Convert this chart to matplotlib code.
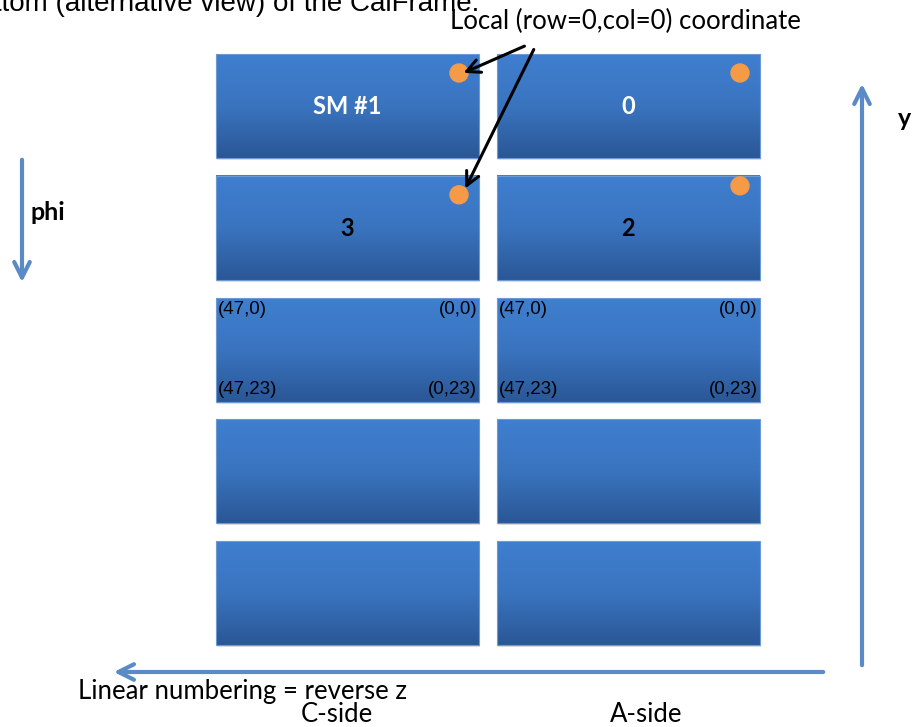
import matplotlib.pyplot as plt
import numpy as np
from matplotlib.colors import LinearSegmentedColormap
from matplotlib.patches import Rectangle, Circle

# super module labels, rows from top to bottom, columns C-side / A-side
sm_labels = [["SM #1", "0"],
             ["3", "2"],
             ["", ""],
             ["", ""],
             ["", ""]]
label_colors = ["white", "black", "black", "black", "black"]
sides = ["C-side", "A-side"]
corner_labels = ["(47,0)", "(0,0)", "(47,23)", "(0,23)"]
corner_row = 2
dot_rows = [0, 1]

# layout in pixels
col_x = [216, 497]
box_w, box_h = 263, 104
row_y0, row_pitch = 54, 121.8

blue_top = "#3f7fcf"
blue_mid = "#3a74bf"
blue_bot = "#2a5796"
orange = "#f59a47"
arrow_blue = "#5b8bc7"

fig = plt.figure(figsize=(9.15, 7.27), dpi=100)
ax = fig.add_axes([0, 0, 1, 1])
ax.set_xlim(0, 915)
ax.set_ylim(727, 0)
ax.axis("off")

cmap = LinearSegmentedColormap.from_list("box", [blue_top, blue_mid, blue_bot])
grad = np.linspace(0, 1, 128).reshape(-1, 1)

for r, row in enumerate(sm_labels):
    y = row_y0 + r * row_pitch
    for c, lab in enumerate(row):
        x = col_x[c]
        # shadow
        ax.add_patch(Rectangle((x + 1, y + 2), box_w, box_h, color="#000000",
                               alpha=0.12, lw=0, zorder=1))
        ax.imshow(grad, cmap=cmap, aspect="auto", zorder=2,
                  extent=(x, x + box_w, y + box_h, y))
        ax.add_patch(Rectangle((x, y), box_w, box_h, fill=False,
                               ec="#6d9ad4", lw=0.8, zorder=3))
        if lab:
            ax.text(x + box_w / 2, y + 53, lab, ha="center", va="center",
                    color=label_colors[r], fontsize=17, fontweight="bold",
                    family="Lato", zorder=4)
        if r in dot_rows:
            cy = y + 19 if r == 0 else (y + 10 if c == 1 else y + 19)
            ax.add_patch(Circle((x + box_w - 20, cy), 9, color=orange, zorder=5))
        if r == corner_row:
            kw = dict(fontsize=13.5, family="Liberation Sans", color="black", zorder=4)
            ax.text(x + 2, y + 12, corner_labels[0], ha="left", va="center", **kw)
            ax.text(x + box_w - 2, y + 12, corner_labels[1], ha="right", va="center", **kw)
            ax.text(x + 2, y + box_h - 12, corner_labels[2], ha="left", va="center", **kw)
            ax.text(x + box_w - 2, y + box_h - 12, corner_labels[3], ha="right", va="center", **kw)

# arrows pointing at local origin
for (x0, y0), (x1, y1) in [((527, 45), (461, 74)), ((535, 47), (464, 191))]:
    ax.annotate("", xy=(x1, y1), xytext=(x0, y0),
                arrowprops=dict(arrowstyle="->", color="black", lw=2.2,
                                mutation_scale=24), zorder=6)

ax.text(625, 21, "Local (row=0,col=0) coordinate", ha="center", va="center",
        fontsize=18.5, family="Lato")

# phi arrow
ax.annotate("", xy=(22, 285), xytext=(22, 157),
            arrowprops=dict(arrowstyle="->", color=arrow_blue, lw=3, mutation_scale=28))
ax.text(30, 212, "phi", ha="left", va="center", fontsize=18, family="Lato",
        fontweight="bold")

# y arrow
ax.annotate("", xy=(862, 81), xytext=(862, 668),
            arrowprops=dict(arrowstyle="->", color=arrow_blue, lw=3, mutation_scale=28))
ax.text(898, 118, "y", ha="left", va="center", fontsize=18, family="Lato",
        fontweight="bold")

# z arrow
ax.annotate("", xy=(111, 672), xytext=(826, 672),
            arrowprops=dict(arrowstyle="->", color=arrow_blue, lw=3, mutation_scale=28))
ax.text(78, 692, "Linear numbering = reverse z", ha="left", va="center",
        fontsize=18.5, family="Lato")
for c, s in enumerate(sides):
    ax.text([337, 646][c], 714, s, ha="center", va="center", fontsize=18.5,
            family="Lato")

ax.text(-6, 11, "ttom (alternative view) of the CalFrame.", ha="left",
        va="baseline", fontsize=20, family="Liberation Sans")

fig.savefig("out.png", dpi=100)
